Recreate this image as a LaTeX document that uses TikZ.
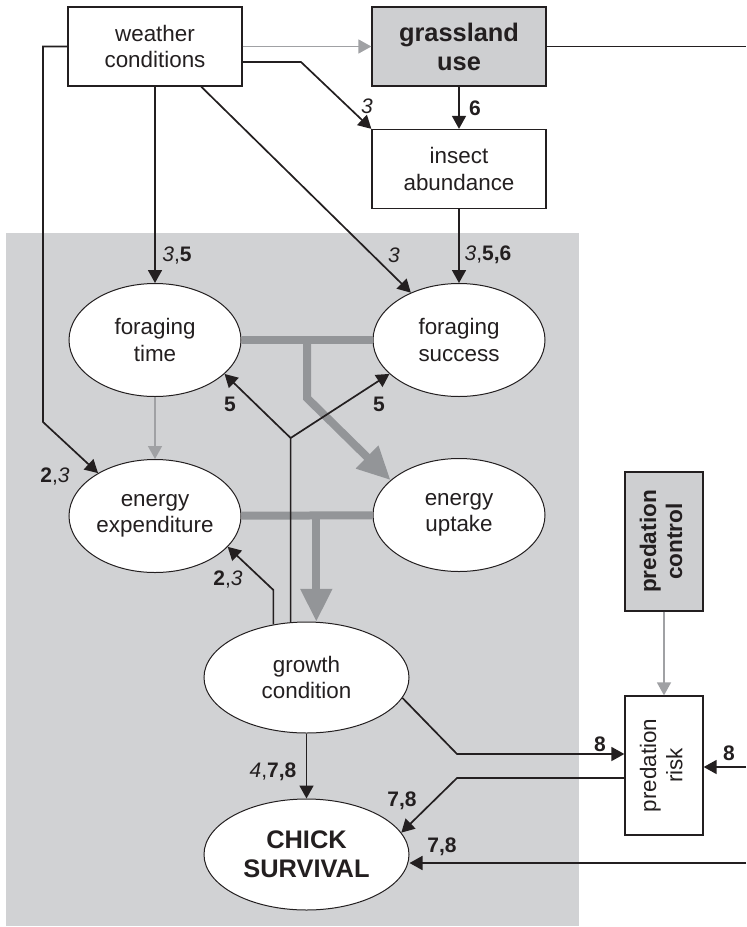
\documentclass[tikz,border=0pt]{standalone}
\usepackage{fontspec}
\usepackage{graphicx}
\setmainfont{Liberation Sans}
\usetikzlibrary{shapes.geometric,arrows.meta}

\definecolor{panelgray}{RGB}{209,210,212}
\definecolor{boxgray}{RGB}{206,207,209}
\definecolor{linkgray}{RGB}{160,161,164}
\definecolor{flowgray}{RGB}{147,149,152}
\definecolor{ink}{RGB}{35,31,32}

\newcommand{\upright}[1]{\rotatebox{90}{\begin{tabular}{@{}c@{}}#1\end{tabular}}}

\begin{document}
\begin{tikzpicture}[x=0.5pt,y=-0.5pt,
    txt/.style={font=\fontsize{11.2}{13.2}\selectfont, text=ink, align=center},
    bigbold/.style={font=\bfseries\fontsize{12.7}{14.5}\selectfont},
    box/.style={txt, draw=ink, line width=0.65pt, fill=white, minimum width=87pt, minimum height=39.5pt, inner sep=0pt},
    tallbox/.style={box, minimum width=39pt, minimum height=69.5pt},
    oval/.style={txt, ellipse, draw=ink, line width=0.5pt, fill=white, minimum width=86pt, minimum height=56.5pt, inner sep=0pt},
    wideoval/.style={oval, minimum width=102.5pt, minimum height=55.5pt},
    lab/.style={font=\fontsize{10.5}{12}\selectfont, text=ink, inner sep=0pt},
    link/.style={draw=ink, line width=0.85pt, -{Triangle[length=6.5pt,width=7pt]}},
    glink/.style={draw=linkgray, line width=0.8pt, -{Triangle[length=6.5pt,width=7pt]}},
    flow/.style={draw=flowgray, line width=4pt},
    gflow/.style={flow, -{Triangle[length=16.5pt,width=15pt]}},
  ]
  \useasboundingbox (0,0) rectangle (746,927);
  \fill[panelgray] (6,233) rectangle (579,926); % chick level

  \node[box] (weather) at (155,46.5) {weather\\conditions};
  \node[box, fill=boxgray, bigbold] (grass) at (459,46.5) {grassland\\use};
  \node[box] (insect) at (459,169) {insect\\abundance};
  \node[oval] (ftime) at (155,340) {foraging\\time};
  \node[oval] (fsucc) at (459,340) {foraging\\success};
  \node[oval] (eexp) at (155,516) {energy\\expenditure};
  \node[oval] (eupt) at (459,515) {energy\\uptake};
  \node[wideoval] (growth) at (306.5,677.5) {growth\\condition};
  \node[wideoval, bigbold] (chick) at (306.5,854.5) {CHICK\\SURVIVAL};
  \node[tallbox, fill=boxgray, font=\bfseries\fontsize{11.3}{13}\selectfont] (pcontrol) at (664,541.5) {\upright{predation\\control}};
  \node[tallbox] (prisk) at (664,765.5) {\upright{predation\\risk}};

  % weather and grassland
  \draw[glink] (weather) -- (grass);
  \coordinate (wbend) at (301,62);
  \draw[link] (weather.east |- wbend) -- (wbend) -- (insect.north west);
  \node[lab] (l3a) at (367,106) {\textit{3}};
  \draw[link] (grass) -- (insect);
  \node[lab] (l6) at (475,108) {\textbf{6}};
  \draw[link] (weather) -- (ftime);
  \node[lab] (l35) at (177,256) {\textit{3},\textbf{5}};
  \draw[link] (weather.-41) -- (fsucc);
  \node[lab] (l3b) at (394,255) {\textit{3}};
  \draw[link] (insect) -- (fsucc);
  \node[lab] (l356) at (488,255) {\textit{3},\textbf{5,6}};
  \coordinate (wleft) at (43,422);
  \draw[link] (weather.west) -| (wleft) -- (eexp.143);
  \node[lab] (l23a) at (55,477) {\textbf{2},\textit{3}};
  \draw[glink] (ftime) -- (eexp);

  % energy flow
  \draw[flow] (ftime) -- (fsucc);
  \coordinate (fknee) at (307,398);
  \draw[gflow] (fknee |- ftime) -- (fknee) -- (eupt.153);
  \draw[flow] (eexp) -- (eupt);
  \draw[gflow] (growth.80 |- eexp) -- (growth.80);

  % feedback of growth
  \coordinate (fork) at (growth.106 |- 0,438);
  \draw[link] (growth.106) -- (fork) -- (ftime.-26);
  \draw[link] (fork) -- (fsucc.-154);
  \node[lab] (l5a) at (230,404) {\textbf{5}};
  \node[lab] (l5b) at (379,404) {\textbf{5}};
  \coordinate (gbend) at (0,590);
  \draw[link] (growth.122) -- (growth.122 |- gbend) -- (eexp.-23);
  \node[lab] (l23b) at (228,580) {\textbf{2},\textit{3}};

  % survival
  \draw[link] (growth) -- (chick);
  \node[lab] (l478) at (273,772) {\textit{4},\textbf{7,8}};
  \coordinate (rbend1) at (457,754);
  \draw[link] (growth.-12) -- (rbend1) -- (rbend1 -| prisk.west);
  \node[lab] (l8a) at (600,744) {\textbf{8}};
  \coordinate (rbend2) at (457,778);
  \draw[link] (rbend2 -| prisk.west) -- (rbend2) -- (chick.13);
  \node[lab] (l78a) at (402,801) {\textbf{7,8}};
  \draw[glink] (pcontrol) -- (prisk);

  % lines from the right edge
  \coordinate (edge0) at (746,47);
  \coordinate (edge1) at (746,767);
  \coordinate (edge2) at (746,863);
  \draw[ink, line width=0.85pt] (grass.east) -- (grass.east -| edge0);
  \draw[link] (edge1) -- (edge1 -| prisk.east);
  \node[lab] (l8b) at (729,753) {\textbf{8}};
  \draw[link] (edge2) -- (edge2 -| chick.east);
  \node[lab] (l78b) at (442,847) {\textbf{7,8}};
\end{tikzpicture}
\end{document}
